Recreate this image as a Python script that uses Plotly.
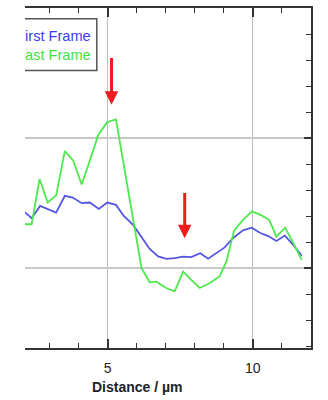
import plotly.graph_objects as go

# First Frame (blue) profile
first_x = [2.10, 2.39, 2.68, 3.23, 3.53, 3.80, 4.11, 4.39, 4.70, 4.99, 5.29, 5.56, 5.88,
           6.17, 6.45, 6.74, 7.03, 7.31, 7.60, 7.88, 8.19, 8.46, 8.75, 9.03, 9.32, 9.66,
           9.96, 10.24, 10.53, 10.81, 11.10, 11.38, 11.68]
first_y = [0.441, 0.385, 0.479, 0.428, 0.556, 0.543, 0.500, 0.505, 0.456, 0.505, 0.487, 0.402,
           0.333, 0.237, 0.148, 0.091, 0.072, 0.077, 0.089, 0.085, 0.115, 0.073, 0.115, 0.160,
           0.233, 0.291, 0.312, 0.273, 0.247, 0.210, 0.251, 0.182, 0.096]

# Last Frame (green) profile
last_x = [2.10, 2.39, 2.66, 2.94, 3.23, 3.53, 3.82, 4.11, 4.39, 4.68, 4.99, 5.29, 6.17,
          6.45, 6.68, 7.03, 7.31, 7.60, 7.88, 8.17, 8.51, 8.86, 9.09, 9.35, 9.66, 9.97,
          10.26, 10.56, 10.81, 11.11, 11.38, 11.68]
last_y = [0.338, 0.338, 0.685, 0.505, 0.560, 0.900, 0.827, 0.643, 0.827, 1.025, 1.123, 1.143,
          0.000, -0.108, -0.103, -0.154, -0.177, -0.026, -0.090, -0.152, -0.115, -0.061,
          0.052, 0.287, 0.372, 0.437, 0.410, 0.372, 0.243, 0.312, 0.198, 0.064]

series_names = ["First Frame", "Last Frame"]
x_ticks = [5, 10]
x_range = [2.16, 12.0]
y_range = [-0.613, 2.0]

# arrows: (x, tip y, tail y)
arrow_x = [5.137, 7.655]
arrow_tip = [1.256, 0.231]
arrow_tail = [1.628, 0.589]

BLUE = "#5555e2"
GREEN = "#4fe84f"
FONT = "Arial, Liberation Sans, sans-serif"
AXC = "#333333"

fig = go.Figure()
fig.add_trace(go.Scatter(x=first_x, y=first_y, mode="lines", name=series_names[0],
                         line=dict(color=BLUE, width=1.8), showlegend=False))
fig.add_trace(go.Scatter(x=last_x, y=last_y, mode="lines", name=series_names[1],
                         line=dict(color=GREEN, width=1.8), showlegend=False))
# invisible trace to carry the top (mirrored) axis
fig.add_trace(go.Scatter(x=[x_range[0]], y=[y_range[0]], xaxis="x2", mode="markers",
                         marker=dict(opacity=0), showlegend=False, hoverinfo="skip"))

# legend box (clipped by plot area like the cropped original)
fig.add_shape(type="rect", xref="x", yref="y", x0=1.0, x1=4.63, y0=1.52, y1=1.918,
              line=dict(color="#555555", width=1.5), fillcolor="white", layer="below")
fig.add_trace(go.Scatter(x=[4.42, 4.42], y=[1.772, 1.632], mode="text",
                         text=series_names, textposition="middle left",
                         textfont=dict(family=FONT, size=14.6, color=["#3c3ce8", "#3ee03e"]),
                         cliponaxis=True, showlegend=False, hoverinfo="skip"))

for ax_, tip, tail in zip(arrow_x, arrow_tip, arrow_tail):
    fig.add_annotation(x=ax_, y=tip, ax=ax_, ay=tail, xref="x", yref="y", axref="x", ayref="y",
                       text="", showarrow=True, arrowhead=2, arrowwidth=3, arrowsize=0.9,
                       arrowcolor="#ee1c1c", standoff=0)

fig.add_annotation(text="Distance / µm", xref="paper", yref="paper", x=0.392, y=-0.115,
                   xanchor="center", yanchor="middle", showarrow=False,
                   font=dict(family=FONT, size=14, color="#222222", weight="bold"))

common_x = dict(range=x_range, tickvals=x_ticks,
                ticks="inside", ticklen=9, tickwidth=1.5, tickcolor=AXC,
                showline=True, linecolor=AXC, linewidth=2, zeroline=False,
                minor=dict(dtick=1, tick0=0, ticks="inside", ticklen=5, tickcolor=AXC,
                           tickwidth=1.2, showgrid=False))

fig.update_layout(
    xaxis=dict(**common_x, ticktext=[str(v) for v in x_ticks], mirror=False,
               showgrid=True, gridcolor="#bdbdbd", gridwidth=1,
               tickfont=dict(family=FONT, size=14, color="#222222"), ticklabelstandoff=6),
    xaxis2=dict(**common_x, overlaying="x", side="top", anchor="y", matches="x",
                showgrid=False, showticklabels=False),
    yaxis=dict(range=y_range, side="right", dtick=1, tick0=0, ticks="inside", ticklen=7,
               tickwidth=1.5, tickcolor=AXC, showticklabels=False,
               showline=True, linecolor=AXC, linewidth=2,
               showgrid=True, gridcolor="#c8c8c8", gridwidth=1.8, zeroline=False,
               minor=dict(dtick=0.2, tick0=0, ticks="inside", ticklen=5, tickcolor=AXC,
                          tickwidth=1.2, showgrid=False)),
    width=328, height=400, margin=dict(l=25, r=17, t=8, b=52),
    plot_bgcolor="white", paper_bgcolor="white", showlegend=False)

fig.write_html("out.html")
